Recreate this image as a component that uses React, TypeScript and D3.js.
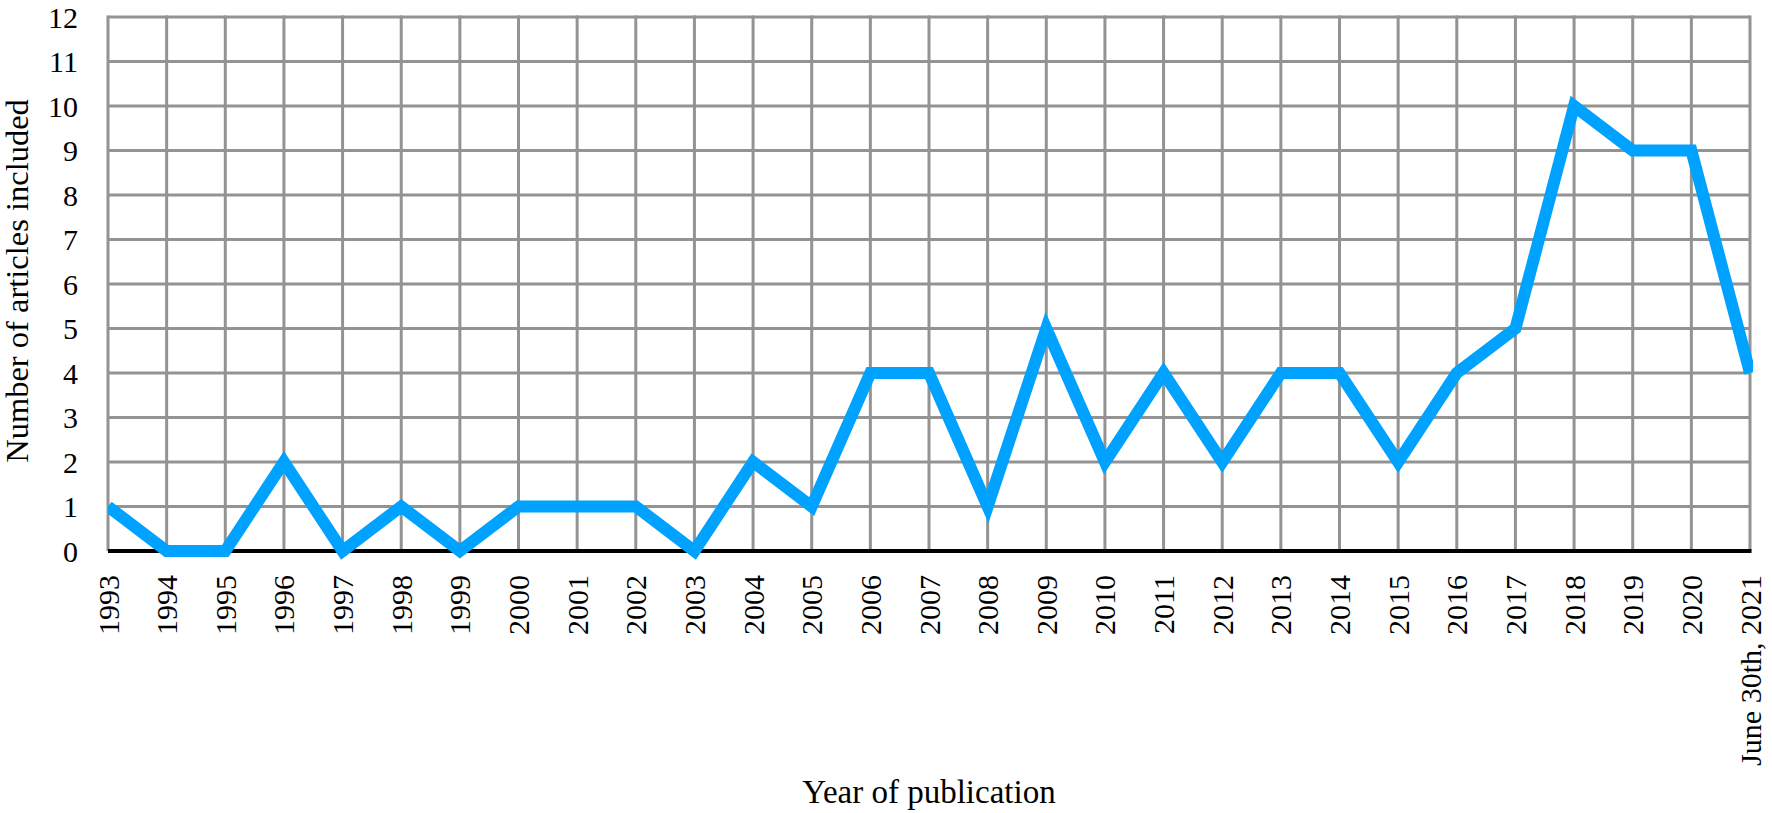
import * as d3 from 'd3'

const years = [
  '1993', '1994', '1995', '1996', '1997', '1998', '1999', '2000', '2001', '2002',
  '2003', '2004', '2005', '2006', '2007', '2008', '2009', '2010', '2011', '2012',
  '2013', '2014', '2015', '2016', '2017', '2018', '2019', '2020', 'June 30th, 2021',
]
const articles = [1, 0, 0, 2, 0, 1, 0, 1, 1, 1, 0, 2, 1, 4, 4, 1, 5, 2, 4, 2, 4, 4, 2, 4, 5, 10, 9, 9, 4]
const yTicks = d3.range(0, 13)

const W = 1772
const H = 813
const margin = { top: 17, right: 22, bottom: 262, left: 108 }
const font = 'Liberation Serif, Times New Roman, serif'
const fs = 30

export default function App() {
  const innerW = W - margin.left - margin.right
  const innerH = H - margin.top - margin.bottom

  const x = d3.scalePoint<string>().domain(years).range([0, innerW])
  const y = d3.scaleLinear().domain([0, 12]).range([innerH, 0])

  const line = d3.line<number>()
    .x((_, i) => x(years[i]) ?? 0)
    .y(d => y(d))
    .curve(d3.curveLinear)

  return (
    <svg
      width={W}
      height={H}
      viewBox={`0 0 ${W} ${H}`}
      style={{ position: 'absolute', left: 0, top: 0, background: '#fff' }}
      fontFamily={font}
    >
      <defs>
        <clipPath id="plot-clip">
          <rect x={0} y={-20} width={innerW + 3} height={innerH + 40} />
        </clipPath>
      </defs>
      <g transform={`translate(${margin.left},${margin.top})`}>
        {/* grid */}
        {yTicks.map(t => (
          <line key={`h-${t}`} x1={0} x2={innerW} y1={y(t)} y2={y(t)} stroke="#939393" strokeWidth={3} />
        ))}
        {years.map(yr => (
          <line key={`v-${yr}`} x1={x(yr)} x2={x(yr)} y1={-1.5} y2={innerH} stroke="#939393" strokeWidth={3} />
        ))}
        <line x1={0} x2={innerW + 1.5} y1={innerH} y2={innerH} stroke="#000" strokeWidth={4} />

        {/* y labels */}
        {yTicks.map(t => (
          <text key={`yl-${t}`} x={-30} y={y(t)} dy="0.35em" textAnchor="end" fontSize={fs} fontFamily={font} fill="#000">
            {t}
          </text>
        ))}

        {/* x labels */}
        {years.map(yr => (
          <text
            key={`xl-${yr}`}
            transform={`translate(${x(yr)},${innerH + 24}) rotate(-90)`}
            dy="0.35em"
            textAnchor="end"
            fontSize={fs}
            fontFamily={font}
            fill="#000"
          >
            {yr}
          </text>
        ))}

        <path
          d={line(articles) ?? ''}
          fill="none"
          stroke="#00A2FF"
          strokeWidth={12}
          strokeLinejoin="miter"
          clipPath="url(#plot-clip)"
        />
      </g>

      <text
        transform={`translate(17,${margin.top + innerH / 2 - 3}) rotate(-90)`}
        dy="0.35em"
        textAnchor="middle"
        fontSize={32.5}
        fontFamily={font}
        fill="#000"
      >
        Number of articles included
      </text>
      <text x={929} y={803} textAnchor="middle" fontSize={33} fontFamily={font} fill="#000">
        Year of publication
      </text>
    </svg>
  )
}
